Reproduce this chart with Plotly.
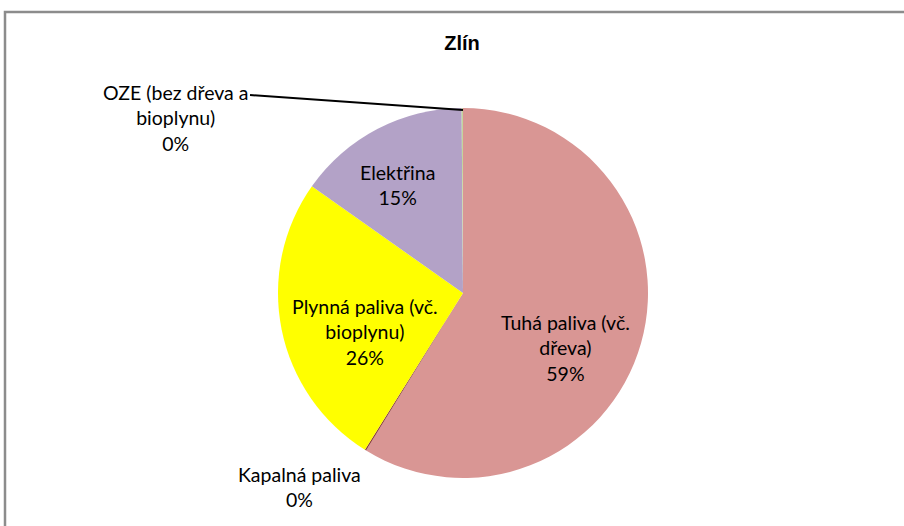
import plotly.graph_objects as go

title = "Zlín"
labels = ["Tuhá paliva (vč.<br>dřeva)", "Kapalná paliva", "Plynná paliva (vč.<br>bioplynu)", "Elektřina", "OZE (bez dřeva a<br>bioplynu)"]
values = [58.8, 0.12, 25.9, 15.1, 0.12]
pct_labels = ["59%", "0%", "26%", "15%", "0%"]
colors = ["#D99694", "#8B3A3A", "#FFFF00", "#B3A2C7", "#C3D69B"]

# label anchor positions (pixels from top-left)
label_pos = [(565, 348), (299, 487), (365, 332), (397, 185), (175, 118)]

W, H = 904, 526
font = "Lato, Noto Sans, sans-serif"

texts = [f"{l}<br>{p}" for l, p in zip(labels, pct_labels)]

fig = go.Figure(go.Pie(
    labels=labels, values=values, sort=False, direction="clockwise", rotation=0,
    marker=dict(colors=colors, line=dict(width=0)),
    textinfo="none",
    domain=dict(x=[278 / W, 648 / W], y=[(H - 478) / H, (H - 108) / H]),
    showlegend=False, hoverinfo="label+percent",
))

for t, (px, py) in zip(texts, label_pos):
    fig.add_annotation(x=px / W, y=(H - py) / H, xref="paper", yref="paper",
                       xanchor="center", yanchor="middle",
                       text=t, showarrow=False, align="center",
                       font=dict(family=font, size=19.5, color="#000000"))

# leader line for OZE
fig.add_shape(type="line", xref="paper", yref="paper",
              x0=250 / W, y0=(H - 95) / H, x1=463 / W, y1=(H - 110) / H,
              line=dict(color="#000000", width=2))
# chart border
fig.add_shape(type="rect", xref="paper", yref="paper",
              x0=5 / W, y0=-0.05, x1=1.05, y1=(H - 12) / H,
              line=dict(color="#8C8C8C", width=2.5))

fig.update_layout(
    width=W, height=H, margin=dict(l=0, r=0, t=0, b=0),
    paper_bgcolor="white", plot_bgcolor="white",
    title=dict(text=f"<b>{title}</b>", x=462 / W, xanchor="center", y=(H - 43) / H, yanchor="middle",
               font=dict(family="Liberation Sans, Arial, sans-serif", size=20, color="#000000")),
)

fig.write_html("out.html", config={"displayModeBar": False},
               post_script="document.body.style.margin='0';document.body.style.overflow='hidden';")
